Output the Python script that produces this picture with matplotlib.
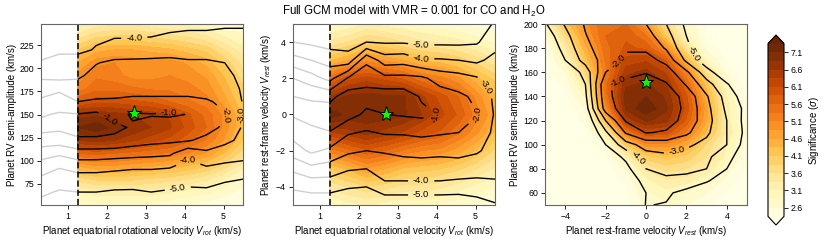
import numpy as np
import matplotlib
matplotlib.use("Agg")
import matplotlib.pyplot as plt

plt.rcParams['font.family'] = ['Liberation Sans', 'DejaVu Sans']
plt.rcParams['mathtext.fontset'] = 'custom'
plt.rcParams['mathtext.rm'] = 'Liberation Sans'
plt.rcParams['mathtext.it'] = 'Liberation Sans:italic'

# ---------------- grids ----------------
vrot = [0.3, 0.77, 1.25, 1.72, 2.19, 2.66, 3.14, 3.61, 4.08, 4.56, 5.03, 5.5]
kp1 = [52, 66, 80, 94, 108, 122, 136, 150, 164, 178, 192, 206, 220, 234, 248]
vrest = [-5, -4, -3, -2, -1, 0, 1, 2, 3, 4, 5]
kp3 = [50, 60, 70, 80, 90, 100, 110, 120, 130, 140, 150, 160, 170, 180, 190, 200]
vrot_min_index = 2

star_vrot = 2.7
star_kp = 152
star_vrest = 0.0

# ---------------- panel 1: significance (Kp x Vrot, Vrot >= 1.25) ----------------
sig_kp_vrot = [
    [2.7, 2.8, 2.8, 2.8, 2.8, 2.7, 2.6, 2.5, 2.4, 2.3],
    [3.1, 3.2, 3.2, 3.2, 3.2, 3.1, 3.0, 2.9, 2.7, 2.5],
    [3.7, 3.9, 3.9, 3.9, 3.8, 3.7, 3.6, 3.4, 3.1, 2.8],
    [4.6, 4.8, 4.8, 4.7, 4.6, 4.5, 4.3, 4.1, 3.7, 3.2],
    [5.6, 5.7, 5.6, 5.5, 5.4, 5.3, 5.1, 4.8, 4.3, 3.7],
    [6.6, 6.7, 6.6, 6.4, 6.2, 6.0, 5.7, 5.3, 4.8, 4.1],
    [7.1, 7.3, 7.0, 6.8, 6.6, 6.4, 6.0, 5.6, 5.0, 4.3],
    [6.7, 6.8, 6.7, 6.6, 6.5, 6.3, 5.9, 5.5, 5.0, 4.3],
    [5.8, 6.0, 6.0, 5.9, 5.8, 5.6, 5.4, 5.2, 4.7, 4.1],
    [5.2, 5.5, 5.5, 5.4, 5.3, 5.3, 5.2, 5.0, 4.5, 3.9],
    [4.9, 5.3, 5.2, 5.0, 5.0, 5.1, 5.0, 4.8, 4.3, 3.7],
    [4.6, 5.0, 5.1, 5.0, 5.0, 5.0, 4.8, 4.5, 4.0, 3.5],
    [4.1, 4.5, 4.6, 4.6, 4.5, 4.4, 4.2, 4.0, 3.6, 3.2],
    [3.5, 3.8, 3.9, 3.9, 3.8, 3.7, 3.6, 3.4, 3.1, 2.9],
    [3.0, 3.2, 3.3, 3.3, 3.2, 3.1, 3.0, 2.9, 2.7, 2.6],
]

# contour-line quantity, one list per Vrot column (Kp ascending)
dll_kp_vrot_cols = [
    [-5.3, -4.8, -4.2, -3.4, -2.6, -1.4, -0.7, -1.1, -1.8, -2.5, -3.2, -3.9, -4.4, -4.7, -5.0],
    [-5.5, -5.1, -4.5, -3.9, -2.8, -1.5, -0.8, -0.9, -1.5, -2.2, -3.4, -3.8, -4.1, -4.6, -4.9],
    [-5.6, -5.0, -4.4, -3.6, -2.4, -1.2, -0.5, -0.95, -2.0, -2.6, -3.15, -3.7, -4.15, -4.5, -4.8],
    [-5.6, -5.0, -4.4, -3.6, -2.4, -1.2, -0.5, -0.8, -1.9, -2.4, -2.7, -3.05, -3.95, -4.1, -4.5],
    [-5.6, -5.1, -4.5, -3.7, -2.5, -1.2, -0.8, -1.3, -1.9, -2.3, -2.6, -2.8, -3.6, -4.05, -4.3],
    [-5.5, -5.1, -4.6, -3.8, -2.6, -1.5, -1.1, -0.9, -1.8, -2.3, -2.6, -2.8, -3.5, -4.05, -4.3],
    [-5.4, -5.0, -4.6, -3.8, -2.7, -1.7, -1.3, -0.95, -1.8, -2.3, -2.6, -2.8, -3.4, -4.0, -4.3],
    [-5.5, -5.1, -4.6, -3.9, -2.8, -1.8, -1.4, -0.9, -1.8, -2.3, -2.6, -2.8, -3.3, -3.9, -4.2],
    [-5.7, -5.2, -4.7, -4.3, -3.7, -1.9, -1.5, -1.02, -1.8, -2.3, -2.6, -2.9, -3.3, -3.8, -4.2],
    [-5.7, -5.2, -4.6, -4.0, -3.2, -2.3, -1.6, -1.3, -1.9, -2.4, -2.7, -2.9, -3.3, -3.8, -4.2],
    [-5.9, -5.3, -4.9, -4.2, -3.4, -2.8, -2.2, -1.95, -2.2, -2.6, -2.8, -3.0, -3.4, -3.8, -4.1],
    [-6.0, -5.5, -5.0, -4.3, -3.6, -3.2, -3.1, -3.1, -3.05, -3.1, -3.2, -3.4, -3.6, -3.9, -4.05],
]

# ---------------- panel 2: significance (Vrest x Vrot, Vrot >= 1.25) ----------------
sig_vrest_vrot = [
    [2.8, 3.0, 3.1, 3.0, 2.9, 2.9, 2.8, 2.7, 2.6, 2.5],
    [3.4, 3.6, 3.8, 3.7, 3.5, 3.5, 3.4, 3.2, 3.0, 2.8],
    [4.1, 4.4, 4.8, 4.6, 4.3, 4.2, 4.1, 3.9, 3.6, 3.3],
    [5.2, 5.5, 5.8, 5.6, 5.3, 5.1, 5.0, 4.7, 4.3, 3.8],
    [6.3, 6.5, 6.7, 6.5, 6.3, 6.0, 5.8, 5.4, 4.9, 4.3],
    [7.3, 7.0, 7.0, 7.0, 6.9, 6.6, 6.2, 5.8, 5.2, 4.6],
    [6.6, 6.9, 7.0, 6.9, 6.9, 6.4, 6.0, 5.6, 5.0, 4.4],
    [5.5, 6.0, 6.2, 6.0, 5.8, 5.4, 5.2, 4.9, 4.4, 4.0],
    [4.3, 4.6, 5.0, 4.8, 4.6, 4.3, 4.2, 4.0, 3.7, 3.4],
    [3.4, 3.6, 3.9, 3.8, 3.6, 3.4, 3.3, 3.2, 3.0, 2.8],
    [2.8, 2.9, 3.1, 3.0, 2.9, 2.8, 2.7, 2.6, 2.5, 2.4],
]

dll_vrest_vrot_cols = [
    [-5.5, -4.9, -3.8, -2.5, -1.6, -0.9, -1.0, -2.0, -3.6, -5.0, -6.0],
    [-5.6, -4.7, -3.3, -1.8, -1.2, -0.7, -1.1, -2.6, -4.0, -5.2, -6.2],
    [-5.8, -4.6, -3.5, -2.2, -1.05, -0.4, -1.3, -3.3, -4.4, -5.4, -6.4],
    [-6.0, -4.9, -3.9, -2.8, -1.9, -0.6, -0.5, -1.9, -4.6, -5.4, -6.3],
    [-6.2, -5.0, -4.0, -3.0, -2.1, -1.2, -0.6, -1.4, -2.2, -5.0, -6.0],
    [-6.0, -4.2, -3.6, -2.9, -1.9, -1.02, -0.5, -1.7, -3.5, -5.1, -5.9],
    [-6.0, -4.2, -3.6, -2.7, -1.9, -0.9, -0.5, -1.7, -3.4, -5.1, -5.8],
    [-6.0, -4.2, -3.6, -2.6, -1.8, -0.8, -1.1, -1.8, -3.9, -5.2, -5.9],
    [-6.0, -4.2, -3.6, -2.7, -1.9, -1.05, -1.5, -2.4, -3.9, -5.2, -6.0],
    [-6.0, -4.3, -3.6, -2.6, -2.0, -1.5, -1.8, -2.6, -4.0, -5.2, -5.9],
    [-5.4, -4.5, -3.5, -2.9, -2.4, -1.95, -2.2, -2.9, -4.2, -5.1, -5.5],
    [-5.1, -4.3, -3.6, -3.3, -3.2, -3.1, -3.2, -3.4, -3.7, -4.4, -4.9],
]

# ---------------- panel 3: significance (Kp x Vrest) ----------------
sig_kp_vrest = [
    [2.2, 2.2, 2.2, 2.2, 2.2, 2.7, 2.8, 2.6, 2.4, 2.2, 2.2],
    [2.2, 2.2, 2.2, 2.2, 2.3, 2.8, 3.0, 2.8, 2.6, 2.3, 2.2],
    [2.2, 2.2, 2.2, 2.2, 2.4, 3.0, 3.3, 3.2, 2.9, 2.5, 2.2],
    [2.2, 2.2, 2.2, 2.2, 2.6, 3.4, 3.7, 3.6, 3.3, 2.7, 2.3],
    [2.2, 2.2, 2.2, 2.3, 3.1, 4.0, 4.2, 4.0, 3.6, 3.0, 2.4],
    [2.2, 2.2, 2.2, 2.6, 4.0, 5.0, 5.0, 4.6, 3.8, 3.1, 2.5],
    [2.2, 2.2, 2.3, 3.2, 5.3, 6.1, 6.0, 5.3, 4.3, 3.3, 2.6],
    [2.2, 2.2, 2.4, 4.2, 6.4, 6.9, 6.7, 5.8, 4.6, 3.2, 2.5],
    [2.2, 2.2, 2.6, 5.0, 6.9, 7.3, 6.9, 6.0, 4.7, 3.2, 2.4],
    [2.2, 2.3, 2.9, 5.4, 7.0, 7.1, 6.8, 5.9, 4.5, 3.1, 2.3],
    [2.2, 2.4, 3.3, 5.5, 6.8, 6.9, 6.6, 5.6, 4.2, 2.8, 2.2],
    [2.2, 2.6, 3.8, 5.3, 6.5, 6.7, 6.3, 5.1, 3.6, 2.5, 2.2],
    [2.2, 3.0, 4.2, 5.4, 6.2, 6.3, 5.8, 4.4, 2.9, 2.3, 2.2],
    [2.3, 3.3, 4.5, 5.5, 5.9, 5.8, 5.0, 3.5, 2.5, 2.2, 2.2],
    [2.6, 3.7, 4.8, 5.6, 5.8, 5.4, 4.1, 3.0, 2.3, 2.2, 2.2],
    [3.0, 4.2, 5.0, 5.6, 5.6, 4.8, 3.7, 2.8, 2.3, 2.2, 2.2],
]

dll_kp_vrest = [
    [-6.3, -6.2, -6.1, -6.0, -5.9, -4.97, -5.05, -5.6, -6.0, -6.3, -6.5],
    [-6.4, -6.3, -6.1, -6.0, -5.8, -5.0, -4.85, -5.3, -5.8, -6.2, -6.5],
    [-6.6, -6.4, -6.2, -6.0, -5.6, -4.7, -4.3, -4.4, -4.9, -5.6, -6.2],
    [-6.8, -6.6, -6.3, -5.9, -5.3, -4.0, -3.6, -3.7, -4.0, -5.0, -6.0],
    [-7.0, -6.8, -6.4, -5.6, -4.8, -3.4, -3.2, -3.4, -3.8, -4.6, -5.8],
    [-7.3, -7.0, -6.4, -5.0, -3.4, -2.6, -2.5, -2.8, -3.3, -4.0, -5.5],
    [-7.5, -7.2, -6.3, -4.2, -1.9, -0.95, -1.1, -1.8, -2.8, -4.0, -5.3],
    [-7.6, -7.2, -6.0, -3.0, -0.9, -0.5, -0.6, -1.3, -2.6, -4.0, -5.4],
    [-7.6, -7.0, -5.5, -1.5, -0.5, -0.3, -0.45, -1.2, -2.7, -4.2, -5.3],
    [-7.5, -6.8, -5.2, -1.2, -0.6, -0.4, -0.5, -1.3, -2.9, -4.4, -5.6],
    [-7.2, -6.4, -5.0, -1.1, -0.75, -0.55, -0.9, -2.1, -3.6, -4.9, -6.0],
    [-7.0, -6.0, -4.6, -2.0, -1.3, -1.05, -1.5, -2.8, -4.6, -5.8, -6.5],
    [-6.3, -5.0, -3.6, -2.6, -1.8, -1.6, -2.3, -4.2, -5.6, -6.3, -6.8],
    [-6.0, -4.6, -3.3, -2.4, -2.1, -2.2, -3.1, -4.8, -5.7, -6.4, -7.0],
    [-5.6, -4.3, -3.05, -2.4, -2.3, -2.6, -3.6, -5.0, -6.0, -6.5, -7.0],
    [-5.1, -3.9, -2.9, -2.5, -2.5, -3.0, -4.0, -5.2, -6.0, -6.5, -7.0],
]

line_levels = [-5.0, -4.0, -3.0, -2.0, -1.0]
fill_levels = np.arange(2.35, 7.36, 0.25)
cbar_ticks = [2.6, 3.1, 3.6, 4.1, 4.6, 5.1, 5.6, 6.1, 6.6, 7.1]

labels1 = [(2.7, 234), (2.0, 141), (3.6, 150), (5.06, 150), (5.42, 150), (4.1, 103), (3.8, 76)]
labels2 = [(3.6, 3.85), (3.6, 3.08), (4.1, 0.0), (5.1, 0.0), (5.4, 1.7), (3.6, -3.65), (3.6, -4.45)]
labels3 = [(-1.4, 170), (-1.5, 157), (1.5, 96), (-0.5, 88), (2.25, 174)]

# ---------------- figure ----------------
cmap = plt.get_cmap('YlOrBr')
fig = plt.figure(figsize=(8.3, 2.42), dpi=100)
W, H = 830, 242
def box(l, t, r, b):
    return [l / W, 1 - b / H, (r - l) / W, (b - t) / H]

ax1 = fig.add_axes(box(41, 24, 243, 205))
ax2 = fig.add_axes(box(293, 24, 495, 205))
ax3 = fig.add_axes(box(545, 24, 747, 205))
cax = fig.add_axes(box(768, 35, 784, 225))

vr = np.array(vrot)
k1 = np.array(kp1)
vs = np.array(vrest)
k3 = np.array(kp3)
i0 = vrot_min_index
dll1 = np.array(dll_kp_vrot_cols).T
dll2 = np.array(dll_vrest_vrot_cols).T

tfs = 6.3
lfs = 7.0
cfs = 6.8
gray = '#cfcfcf'

def style(ax):
    ax.tick_params(labelsize=tfs, length=3, width=0.6, pad=2)
    for s in ax.spines.values():
        s.set_color('#666666')
        s.set_linewidth(0.8)

# panel 1
cf = ax1.contourf(vr[i0:], k1, np.array(sig_kp_vrot), levels=fill_levels, cmap=cmap, extend='both')
cs1 = ax1.contour(vr[i0:], k1, dll1[:, i0:], levels=line_levels, colors='k',
                  linewidths=1.0, linestyles='solid')
ax1.contour(vr[:i0 + 1], k1, dll1[:, :i0 + 1], levels=line_levels, colors=gray,
            linewidths=1.0, linestyles='solid')
ax1.axvline(vr[i0], color='k', ls='--', lw=1.1, dashes=(4, 2))
ax1.clabel(cs1, fmt='%.1f', fontsize=cfs, inline=True, manual=labels1)
ax1.plot([star_vrot], [star_kp], marker='*', ms=11, mfc='#00ff00', mec='k', mew=0.7, ls='none')
ax1.set_xlim(vr[0], vr[-1])
ax1.set_ylim(k1[0], k1[-1])
ax1.set_xticks([1, 2, 3, 4, 5])
ax1.set_yticks([75, 100, 125, 150, 175, 200, 225])
ax1.set_xlabel(r'Planet equatorial rotational velocity $V_{rot}$ (km/s)', fontsize=lfs, labelpad=2)
ax1.set_ylabel('Planet RV semi-amplitude (km/s)', fontsize=lfs, labelpad=2)
style(ax1)

# panel 2
ax2.contourf(vr[i0:], vs, np.array(sig_vrest_vrot), levels=fill_levels, cmap=cmap, extend='both')
cs2 = ax2.contour(vr[i0:], vs, dll2[:, i0:], levels=line_levels, colors='k',
                  linewidths=1.0, linestyles='solid')
ax2.contour(vr[:i0 + 1], vs, dll2[:, :i0 + 1], levels=line_levels, colors=gray,
            linewidths=1.0, linestyles='solid')
ax2.axvline(vr[i0], color='k', ls='--', lw=1.1, dashes=(4, 2))
ax2.clabel(cs2, fmt='%.1f', fontsize=cfs, inline=True, manual=labels2)
ax2.plot([star_vrot], [star_vrest], marker='*', ms=11, mfc='#00ff00', mec='k', mew=0.7, ls='none')
ax2.set_xlim(vr[0], vr[-1])
ax2.set_ylim(vs[0], vs[-1])
ax2.set_xticks([1, 2, 3, 4, 5])
ax2.set_yticks([-4, -2, 0, 2, 4])
ax2.set_xlabel(r'Planet equatorial rotational velocity $V_{rot}$ (km/s)', fontsize=lfs, labelpad=2)
ax2.set_ylabel(r'Planet rest-frame velocity $V_{rest}$ (km/s)', fontsize=lfs, labelpad=2)
style(ax2)

# panel 3
ax3.contourf(vs, k3, np.array(sig_kp_vrest), levels=fill_levels, cmap=cmap, extend='both')
cs3 = ax3.contour(vs, k3, np.array(dll_kp_vrest), levels=line_levels, colors='k',
                  linewidths=1.0, linestyles='solid')
ax3.clabel(cs3, fmt='%.1f', fontsize=cfs, inline=True, manual=labels3)
ax3.plot([star_vrest], [star_kp], marker='*', ms=11, mfc='#00ff00', mec='k', mew=0.7, ls='none')
ax3.set_xlim(vs[0], vs[-1])
ax3.set_ylim(k3[0], k3[-1])
ax3.set_xticks([-4, -2, 0, 2, 4])
ax3.set_yticks([60, 80, 100, 120, 140, 160, 180, 200])
ax3.set_xlabel(r'Planet rest-frame velocity $V_{rest}$ (km/s)', fontsize=lfs, labelpad=2)
ax3.set_ylabel('Planet RV semi-amplitude (km/s)', fontsize=lfs, labelpad=2)
style(ax3)

cb = fig.colorbar(cf, cax=cax, ticks=cbar_ticks)
cb.ax.set_yticklabels(['%.1f' % t for t in cbar_ticks])
cb.ax.tick_params(labelsize=tfs, length=3, width=0.6, pad=2)
cb.set_label(r'Significance ($\sigma$)', fontsize=lfs, labelpad=3)
cb.outline.set_linewidth(0.8)

fig.text(414 / W, 1 - 11 / H, r'Full GCM model with VMR = 0.001 for CO and H$_2$O',
         ha='center', va='center', fontsize=8.3)

fig.savefig('out.png', dpi=100)
